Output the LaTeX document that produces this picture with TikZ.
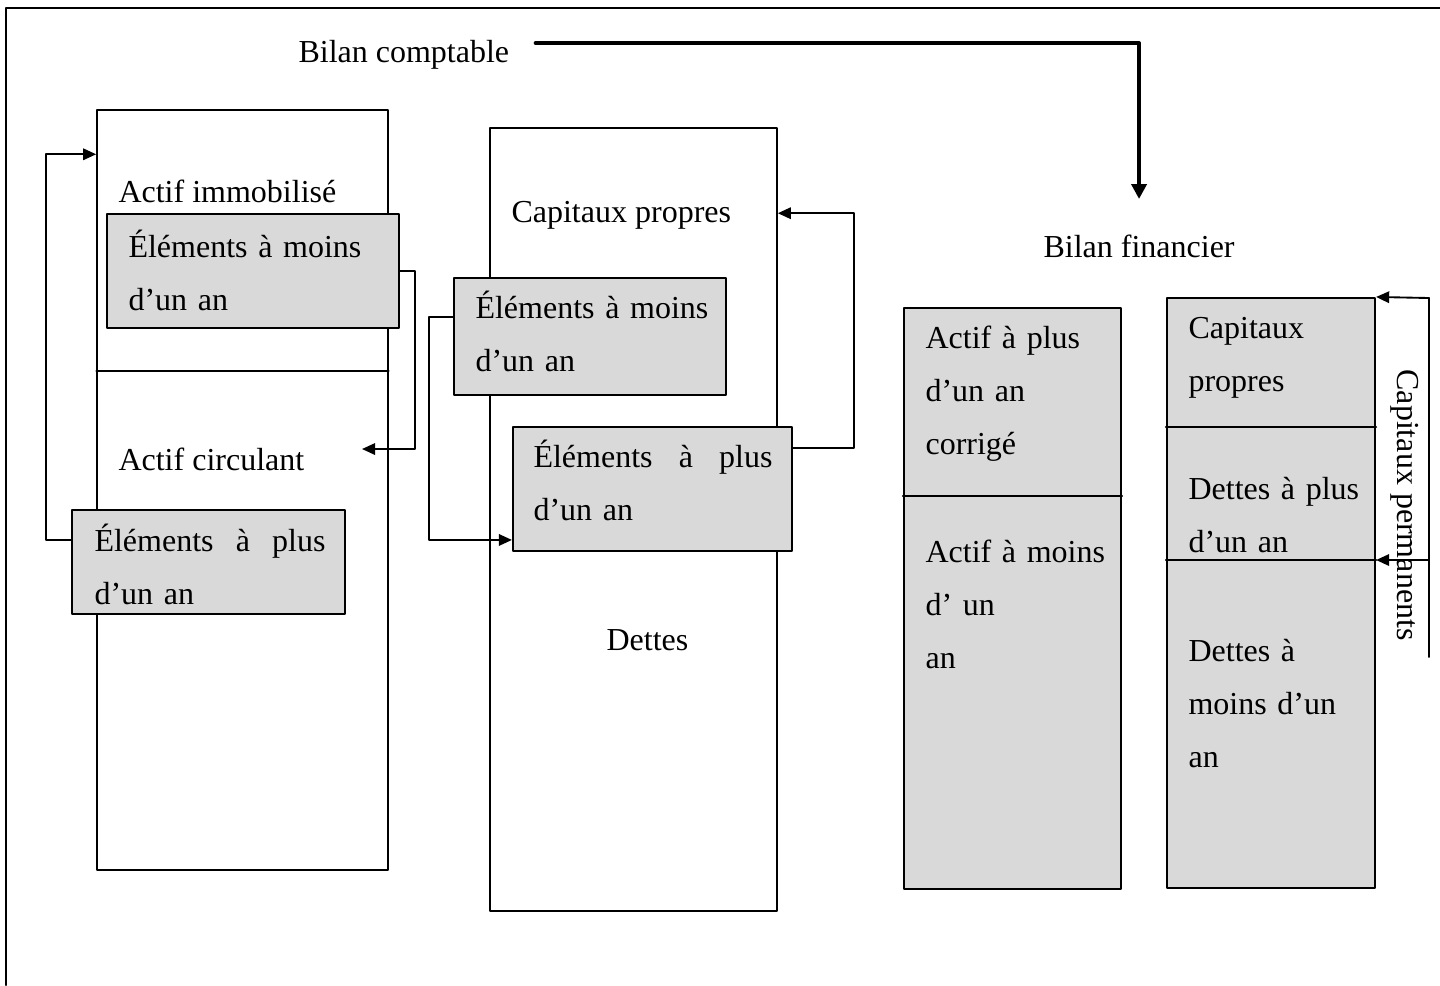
\documentclass[tikz,border=0pt]{standalone}
\usepackage{fontspec}
\setmainfont{Liberation Serif}
\usepackage{xcolor}
\usetikzlibrary{positioning,calc,arrows.meta}

\definecolor{boxgray}{HTML}{D9D9D9}
\def\pxu{0.375pt}

\begin{document}
\begin{tikzpicture}[
		x=\pxu,y=-\pxu,
		line cap=round,line join=round,
		sz/.style 2 args={minimum width={#1*\pxu},minimum height={#2*\pxu},inner sep=0pt},
		whitebox/.style={draw=black,line width=0.6pt,fill=white},
		graybox/.style={draw=black,line width=0.8pt,fill=boxgray},
		txt/.style={inner sep=0pt,anchor=base west,font=\fontsize{12}{20}\selectfont},
		mtxt/.style={txt,text width=#1},
		link/.style={line width=0.7pt},
		conn/.style={link,-{Triangle[length=4.9pt,width=4.3pt]}},
		bigarrow/.style={line width=1.5pt,-{Triangle[length=5.6pt,width=5.6pt]}}
	]
	\useasboundingbox (0,0) rectangle (1440,985);
	
	% ---- frame
	\draw[line width=0.8pt] (6,985) -- (6,8) -- (1440,8);
	
	% ---- bilan comptable
	\node[whitebox,sz={291}{760}] (actif) at (242.5,490) {};
	\node[whitebox,sz={287}{783}] (passif) at (633.5,519.5) {};
	\draw[line width=0.6pt] (actif.west |- 0,371) -- (actif.east |- 0,371);
	
	\node[graybox,sz={292}{114}] (amoins) at (253,271) {};
	\node[graybox,sz={273}{104}] (aplus) at (208.5,562) {};
	\node[graybox,sz={272}{117}] (pmoins) at (590,336.5) {};
	\node[graybox,sz={279}{124}] (pplus) at (652.5,489) {};
	
	\node[txt] (comptable) at (298,62) {Bilan comptable};
	\node[txt] (immo) at (118,202) {Actif immobilisé};
	\node[txt] (circ) at (118,470) {Actif circulant};
	\node[mtxt=95pt] (amoinsT) at (128,257) {Éléments à moins\\d’un an};
	\node[mtxt=86.6pt] (aplusT) at (94,551) {Éléments \hfill à \hfill plus\\d’un an};
	\node[txt] (cappro) at (511,222) {Capitaux propres};
	\node[mtxt=95pt] (pmoinsT) at (475,318) {Éléments à moins\\d’un an};
	\node[mtxt=89.6pt] (pplusT) at (533,467) {Éléments \hfill à \hfill plus\\d’un an};
	\node[txt] (dettes) at (606,650) {Dettes};
	
	% ---- bilan financier
	\node[txt] (financier) at (1043,257) {Bilan financier};
	\node[graybox,sz={217}{581}] (actfin) at (1012.5,598.5) {};
	\node[graybox,sz={208}{590}] (passfin) at (1271,593) {};
	\draw[line width=0.8pt] (actfin.west |- 0,496) -- (actfin.east |- 0,496);
	\draw[line width=0.8pt] (passfin.west |- 0,427) -- (passfin.east |- 0,427);
	\draw[line width=0.8pt] (passfin.west |- 0,560) -- (passfin.east |- 0,560);
	
	\node[mtxt=80pt] (aplusan) at (925,348) {Actif à plus\\d’un an\\corrigé};
	\node[mtxt=80pt] (amoinsan) at (925,562) {Actif à moins\\d’ un\\an};
	\node[mtxt=75pt] (cp) at (1188,338) {Capitaux\\propres};
	\node[mtxt=75pt] (dplus) at (1188,499) {Dettes à plus\\d’un an};
	\node[mtxt=75pt] (dmoins) at (1188,661) {Dettes à\\moins d’un\\an};
	\node[txt,rotate=-90,anchor=center] (perm) at (1405,505) {Capitaux permanents};
	
	% ---- connectors
	\coordinate (circend) at (362,449);
	\coordinate (ptop) at (1429,298);
	\coordinate (pbot) at (1429,657);
	
	\draw[bigarrow] ([xshift=9.75pt]comptable.east |- 0,43) -| ([yshift=13.1pt]financier.north);
	
	\draw[conn] ([yshift=8.25pt]aplus.west) -- ++(-25,0) |- ([yshift=-16.9pt]actif.north west);
	\draw[conn] (amoins.east) -- ++(15,0) |- (circend);
	\draw[conn] ([yshift=7.3pt]pmoins.west) -- ++(-24,0) |- ([yshift=-19.1pt]pplus.west);
	\draw[conn] ([yshift=15.4pt]pplus.east) -- ++(61,0) |- ([yshift=-32.25pt]passif.north east);
	
	\draw[link] (ptop) -- (pbot);
	\draw[conn] (ptop) -- (passfin.north east);
	\draw[conn] (pbot |- 0,560) -- (passfin.east |- 0,560);
\end{tikzpicture}
\end{document}
